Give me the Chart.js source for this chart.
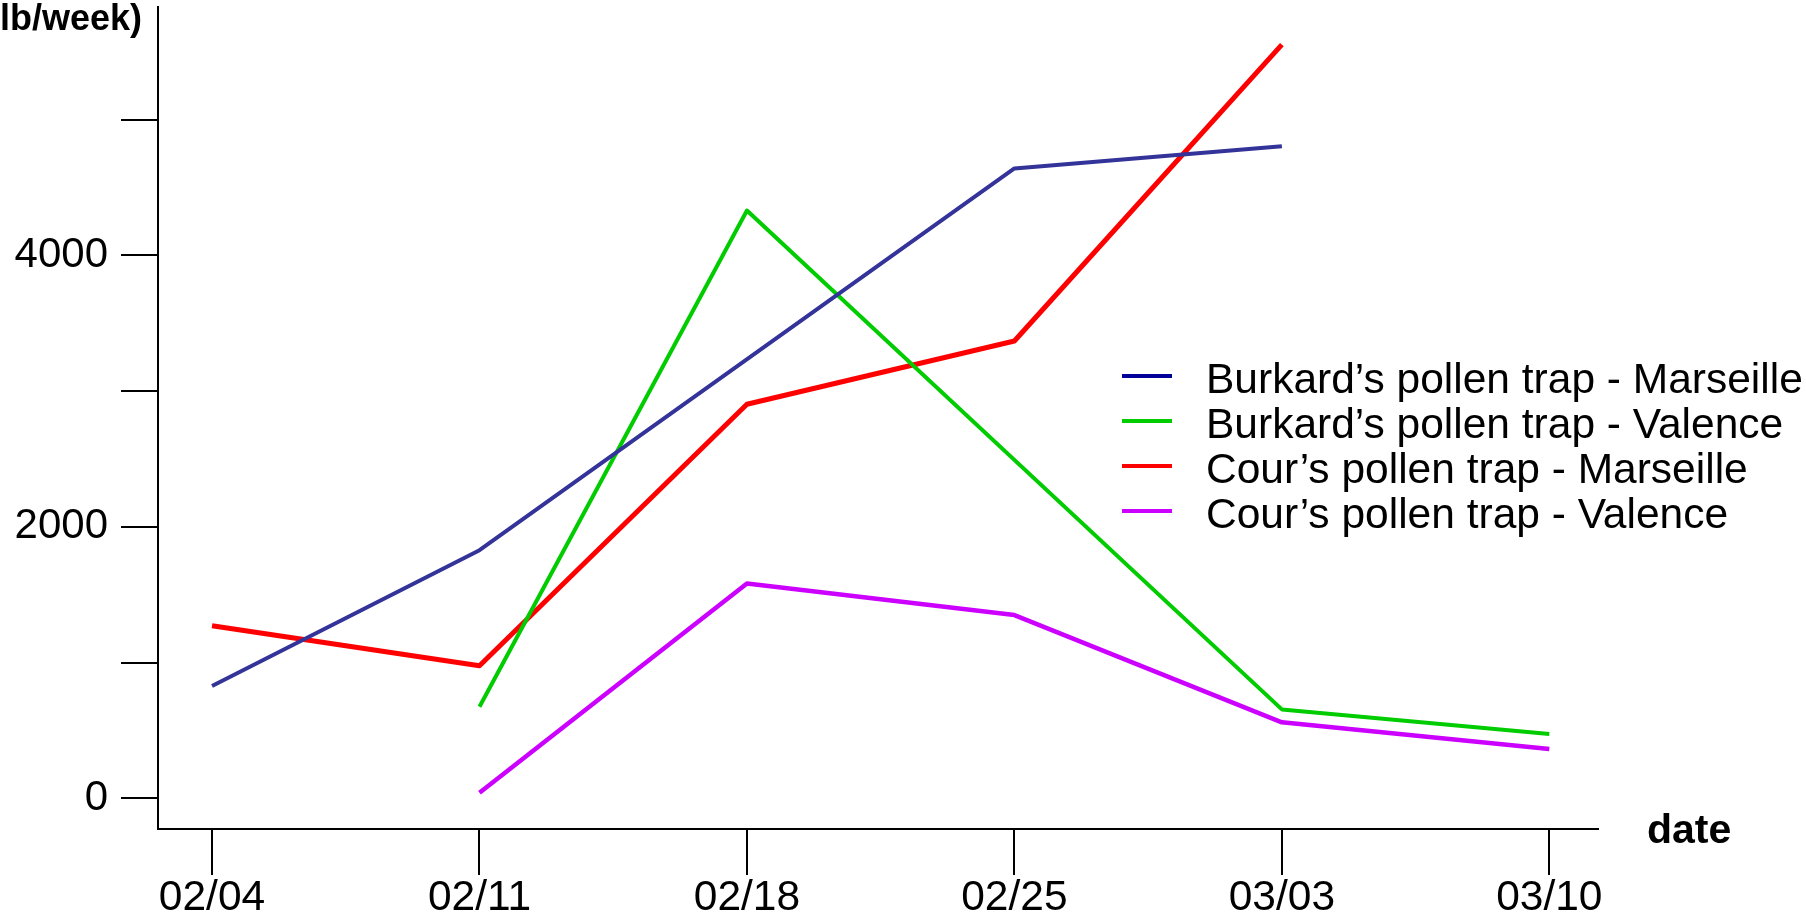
<!DOCTYPE html>
<html>
<head>
<meta charset="utf-8">
<script src="https://cdn.jsdelivr.net/npm/chart.js@4.4.1/dist/chart.umd.min.js"></script>
<style>
  html, body { margin: 0; padding: 0; background: #fff; }
  #wrap { width: 1806px; height: 923px; }
</style>
</head>
<body>
<div id="wrap"><canvas id="chart" width="1806" height="923"></canvas></div>
<script>
// x axis: sampling dates
const dates = ['02/04', '02/11', '02/18', '02/25', '03/03', '03/10'];
const yTicks = [0, 1000, 2000, 3000, 4000, 5000];

// pollen per week, null = no sample that week
const burkardMarseille = [827, 1828, null, 4640, 4803, null];
const burkardValence = [null, 674, 4330, null, 655, 473];
const courMarseille = [1271, 976, 2903, 3369, 5552, null];
const courValence = [null, 41, 1583, 1350, 560, 363];

const seriesNames = [
    'Burkard\u2019s pollen trap - Marseille',
    'Burkard\u2019s pollen trap - Valence',
    'Cour\u2019s pollen trap - Marseille',
    'Cour\u2019s pollen trap - Valence'
];

const FONT = '"Liberation Sans", Arial, Helvetica, sans-serif';

const toPoints = arr => arr.map((v, i) => ({ x: i, y: v }));

function makeSet(label, values, color, width, legendColor) {
    return {
        label: label,
        data: toPoints(values),
        borderColor: color,
        legendColor: legendColor || color,
        borderWidth: width,
        pointRadius: 0,
        spanGaps: true,
        tension: 0,
        borderJoinStyle: 'round',
        fill: false
    };
}

// no extra room for half-labels, the axes sit right at the edges
function noPad(s) {
    s.paddingTop = 0;
    s.paddingBottom = 0;
    s.paddingLeft = 0;
    s.paddingRight = 0;
}

// legend + loose axis texts, drawn after the chart
const extraText = {
    id: 'extraText',
    afterDraw(chart) {
        const ctx = chart.ctx;
        ctx.save();
        ctx.fillStyle = '#000';
        ctx.textBaseline = 'alphabetic';

        ctx.font = 'bold 36px ' + FONT;
        ctx.textAlign = 'right';
        ctx.fillText('lb/week)', 142, 30);

        ctx.font = 'bold 41px ' + FONT;
        ctx.textAlign = 'left';
        ctx.fillText('date', 1647, 843);

        ctx.font = '42.5px ' + FONT;
        chart.data.datasets.forEach((ds, i) => {
            const base = 393 + i * 45;
            ctx.strokeStyle = ds.legendColor;
            ctx.lineWidth = 4;
            ctx.beginPath();
            ctx.moveTo(1122, base - 17);
            ctx.lineTo(1172, base - 17);
            ctx.stroke();
            ctx.fillText(ds.label, 1206, base);
        });
        ctx.restore();
    }
};

const ctx = document.getElementById('chart').getContext('2d');
new Chart(ctx, {
    type: 'line',
    data: {
        datasets: [
            makeSet(seriesNames[0], burkardMarseille, '#333399', 4, '#000099'),
            makeSet(seriesNames[1], burkardValence, '#00cc00', 4),
            makeSet(seriesNames[2], courMarseille, '#ff0000', 5),
            makeSet(seriesNames[3], courValence, '#cc00ff', 4.5)
        ]
    },
    options: {
        responsive: false,
        animation: false,
        devicePixelRatio: 1,
        layout: { padding: { top: 7, right: 208, left: 0, bottom: 0 } },
        plugins: {
            legend: { display: false },
            tooltip: { enabled: false }
        },
        scales: {
            x: {
                type: 'linear',
                min: -0.202,
                max: 5.182,
                afterBuildTicks: s => { s.ticks = dates.map((d, i) => ({ value: i })); },
                afterFit: s => { s.height = 94; noPad(s); },
                grid: { drawOnChartArea: false, tickLength: 46, color: '#000', lineWidth: 2 },
                border: { color: '#000', width: 2 },
                ticks: {
                    color: '#000',
                    font: { size: 42.5, family: FONT },
                    padding: -2,
                    maxRotation: 0,
                    autoSkip: false,
                    callback: v => dates[v]
                }
            },
            y: {
                min: -226,
                max: 5829,
                afterBuildTicks: s => { s.ticks = yTicks.map(v => ({ value: v })); },
                afterFit: s => { s.width = 158; noPad(s); },
                grid: { drawOnChartArea: false, tickLength: 37, color: '#000', lineWidth: 2 },
                border: { color: '#000', width: 2 },
                ticks: {
                    color: '#000',
                    font: { size: 42, family: FONT },
                    padding: 13,
                    callback: v => (v % 2000 === 0 ? String(v) : '')
                }
            }
        }
    },
    plugins: [extraText]
});
</script>
</body>
</html>
